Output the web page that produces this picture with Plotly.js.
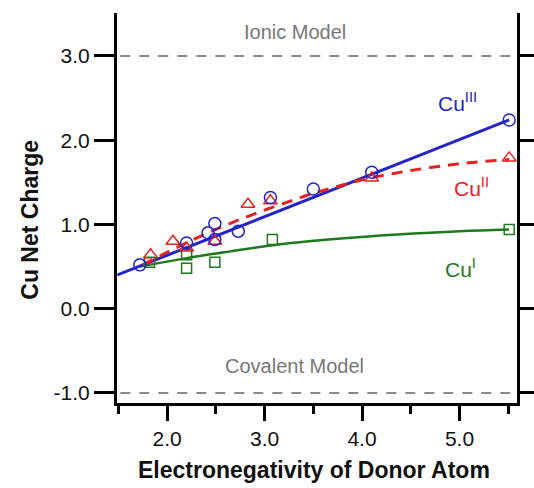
<!DOCTYPE html>
<html>
<head>
<meta charset="utf-8">
<script src="https://cdn.plot.ly/plotly-3.0.1.min.js"></script>
<style>html,body{margin:0;padding:0;background:#fff;}#chart{width:534px;height:488px;}</style>
</head>
<body>
<div id="chart"></div>
<script>
// Cu(III) data points (blue circles)
const cu3X = [1.72, 2.20, 2.42, 2.49, 2.49, 2.73, 3.06, 3.50, 4.10, 5.51];
const cu3Y = [0.52, 0.78, 0.90, 1.01, 0.82, 0.92, 1.32, 1.42, 1.62, 2.24];
// Cu(II) data points (red triangles)
const cu2X = [1.83, 2.06, 2.20, 2.49, 2.83, 3.06, 4.10, 5.51];
const cu2Y = [0.64, 0.80, 0.72, 0.80, 1.24, 1.28, 1.55, 1.79];
// Cu(I) data points (green squares)
const cu1X = [1.82, 2.20, 2.20, 2.49, 3.08, 5.51];
const cu1Y = [0.55, 0.64, 0.48, 0.55, 0.82, 0.94];

// fit curves
const fit3X = [1.49, 5.51];
const fit3Y = [0.40, 2.24];
const fit2X = [1.75, 2.00, 2.25, 2.50, 2.75, 3.00, 3.25, 3.50, 3.75, 4.00, 4.50, 5.00, 5.51];
const fit2Y = [0.52, 0.67, 0.81, 0.94, 1.06, 1.17, 1.27, 1.37, 1.45, 1.53, 1.64, 1.72, 1.77];
const fit1X = [1.72, 2.20, 2.65, 3.16, 3.75, 4.36, 5.00, 5.51];
const fit1Y = [0.50, 0.60, 0.68, 0.765, 0.83, 0.88, 0.92, 0.94];

// reference model lines
const refX = [1.52, 5.52];
const ionicY = [3.0, 3.0];
const covalentY = [-1.0, -1.0];

const xTicks = [2, 3, 4, 5];
const xTickText = ['2.0', '3.0', '4.0', '5.0'];
const yTicks = [-1, 0, 1, 2, 3];
const yTickText = ['-1.0', '0.0', '1.0', '2.0', '3.0'];

const BLUE = '#2424c8', RED = '#e52222', GREEN = '#1e7a1e', GRAY = '#8a8a8a';
const FONT = 'Liberation Sans, Arial, Helvetica, sans-serif';

const traces = [
  {x: refX, y: ionicY, mode: 'lines', line: {color: GRAY, width: 2, dash: '10px,9px'}, hoverinfo: 'skip'},
  {x: refX, y: covalentY, mode: 'lines', line: {color: GRAY, width: 2, dash: '10px,9px'}, hoverinfo: 'skip'},
  {x: fit1X, y: fit1Y, mode: 'lines', line: {color: GREEN, width: 2.5, shape: 'spline'}},
  {x: fit3X, y: fit3Y, mode: 'lines', line: {color: BLUE, width: 3}},
  {x: fit2X, y: fit2Y, mode: 'lines', line: {color: RED, width: 3, dash: '11px,8px', shape: 'spline'}},
  {x: cu1X, y: cu1Y, mode: 'markers', marker: {symbol: 'square-open', size: 10, color: GREEN, line: {width: 1.5}}},
  {x: cu2X, y: cu2Y, mode: 'markers', marker: {symbol: 'triangle-up-open', size: 12, color: RED, line: {width: 1.5}}},
  {x: cu3X, y: cu3Y, mode: 'markers', marker: {symbol: 'circle-open', size: 12, color: BLUE, line: {width: 1.5}}}
];

const layout = {
  width: 534, height: 488,
  margin: {l: 117, r: 17, t: 13, b: 85},
  paper_bgcolor: '#fff', plot_bgcolor: '#fff',
  showlegend: false,
  font: {family: FONT, size: 21, color: '#111'},
  xaxis: {
    range: [1.486, 5.59], showgrid: false, zeroline: false,
    showline: true, linewidth: 3, linecolor: '#000', mirror: false,
    ticks: 'outside', ticklen: 15, tickwidth: 3, tickcolor: '#000',
    tickvals: xTicks, ticktext: xTickText,
    tickfont: {family: FONT, size: 21, color: '#111'},
    minor: {dtick: 0.5, tick0: 1.5, ticks: 'outside', ticklen: 8, tickwidth: 3, tickcolor: '#000', showgrid: false}
  },
  yaxis: {
    range: [-1.12, 3.51], showgrid: false, zeroline: false,
    showline: true, linewidth: 3, linecolor: '#000', mirror: 'allticks',
    ticks: 'outside', ticklen: 20, tickwidth: 3, tickcolor: '#000',
    tickvals: yTicks, ticktext: yTickText,
    tickfont: {family: FONT, size: 21, color: '#111'}
  },
  annotations: [
    {xref: 'paper', yref: 'paper', x: 0.4925, y: -0.172, text: '<b>Electronegativity of Donor Atom</b>', showarrow: false,
     font: {family: FONT, size: 23, color: '#111'}, xanchor: 'center', yanchor: 'middle'},
    {xref: 'paper', yref: 'paper', x: -0.2175, y: 0.47, text: '<b>Cu Net Charge</b>', showarrow: false, textangle: -90,
     font: {family: FONT, size: 23, color: '#111'}, xanchor: 'center', yanchor: 'middle'},
    {x: 3.31, y: 3.28, text: 'Ionic Model', showarrow: false, font: {family: FONT, size: 20, color: '#777'}},
    {x: 3.31, y: -0.68, text: 'Covalent Model', showarrow: false, font: {family: FONT, size: 20, color: '#777'}},
    {x: 4.98, y: 2.45, text: 'Cu<sup>III</sup>', showarrow: false, font: {family: FONT, size: 21, color: BLUE}},
    {x: 5.12, y: 1.45, text: 'Cu<sup>II</sup>', showarrow: false, font: {family: FONT, size: 21, color: RED}},
    {x: 5.01, y: 0.48, text: 'Cu<sup>I</sup>', showarrow: false, font: {family: FONT, size: 21, color: GREEN}}
  ]
};

Plotly.newPlot('chart', traces, layout, {displayModeBar: false, staticPlot: true});
</script>
</body>
</html>
